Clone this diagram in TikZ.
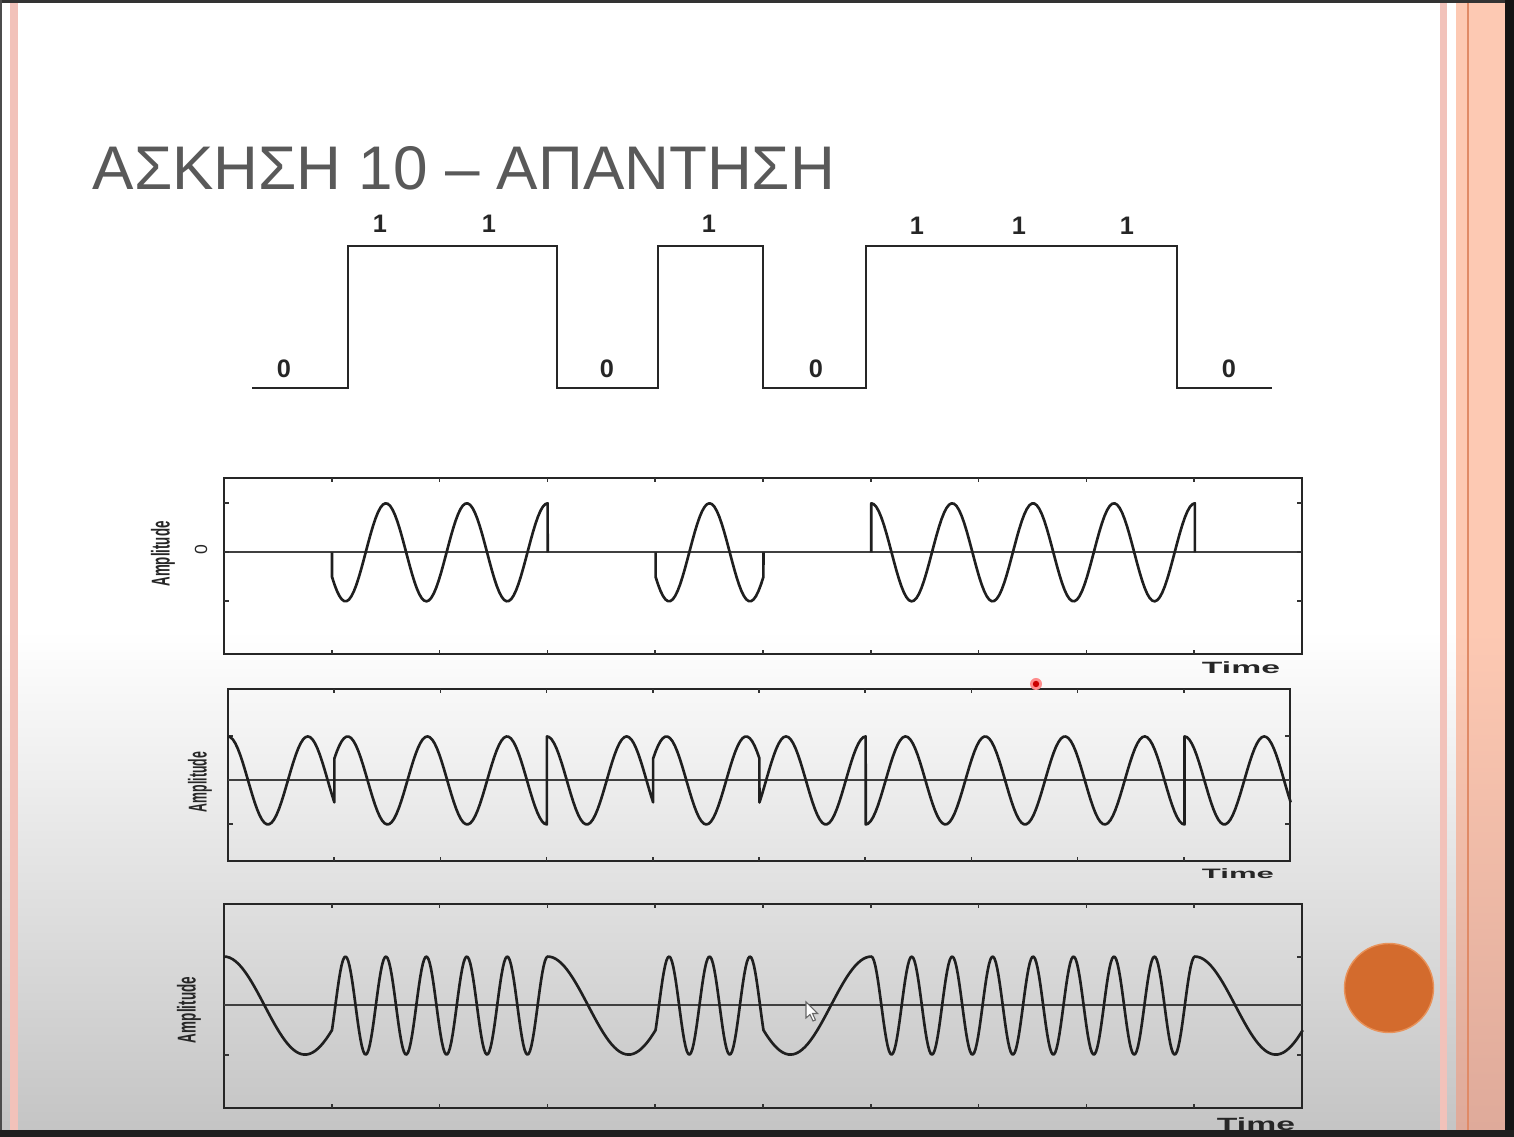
\documentclass[tikz,border=0pt]{standalone}
\usepackage{fontspec}
\setmainfont{Liberation Sans}
\usepackage{graphicx}
\definecolor{titlegray}{HTML}{595959}
\definecolor{salmon}{HTML}{FDC9B3}
\definecolor{salmondark}{HTML}{DFAA9A}
\definecolor{pinkstripe}{HTML}{F2C2BA}
\definecolor{orangeline}{HTML}{E08A66}
\definecolor{dotorange}{HTML}{D36B2D}
\definecolor{dotedge}{HTML}{E8925A}
\begin{document}
\begin{tikzpicture}[x=0.01cm,y=-0.01cm,
  wave/.style={line width=0.75pt, black!88, line join=round},
  panelbox/.style={line width=0.6pt, black!85},
  zeroline/.style={line width=0.35pt, black!75},
  tickmark/.style={line width=0.45pt, black!80},
  bitline/.style={line width=0.5pt, black!85},
  bitlbl/.style={font=\fontsize{7.2}{8}\selectfont\bfseries, inner sep=0pt, text=black!85},
  amp/.style={rotate=90, inner sep=0pt, text=black!85},
  timelbl/.style={inner sep=0pt, text=black!85}]
\useasboundingbox (0,0) rectangle (1514,1137);
% background
\fill[white] (0,0) rectangle (1514,1137);
\shade[top color=white,bottom color=black!23] (0,630) rectangle (1505,1130);
% left stripe
\fill[pinkstripe] (10,3) rectangle (18,1130);
% right stripes
\fill[pinkstripe] (1440,3) rectangle (1447,1130);
\fill[salmon] (1456,3) rectangle (1505,630);
\shade[top color=salmon,bottom color=salmondark] (1456,630) rectangle (1505,1130);
\draw[orangeline, line width=0.35pt] (1468,3) -- (1468,1130);
% frame edges
\fill[black!80] (0,0) rectangle (1514,3);
\fill[black!70] (0,0) rectangle (2,1137);
\fill[black!92] (1505,0) rectangle (1514,1137);

% title
\node[anchor=west, text=titlegray, inner sep=0pt] (title) at (92,168.5)
  {\resizebox{7.42cm}{0.43cm}{ΑΣΚΗΣΗ 10 – ΑΠΑΝΤΗΣΗ}};

% bit sequence
\draw[bitline] (252,388) -- (348,388) -- (348,246) -- (557,246) -- (557,388)
  -- (658,388) -- (658,246) -- (763,246) -- (763,388) -- (866,388) -- (866,246)
  -- (1177,246) -- (1177,388) -- (1272,388);
\node[bitlbl] (b0) at (284,369) {0};
\node[bitlbl] (b1) at (380,224) {1};
\node[bitlbl] (b2) at (489,224) {1};
\node[bitlbl] (b3) at (607,369) {0};
\node[bitlbl] (b4) at (709,224) {1};
\node[bitlbl] (b5) at (816,369) {0};
\node[bitlbl] (b6) at (917,226) {1};
\node[bitlbl] (b7) at (1019,226) {1};
\node[bitlbl] (b8) at (1127,226) {1};
\node[bitlbl] (b9) at (1229,369) {0};

% ---------- panel 1 (ASK) ----------
\draw[panelbox] (224,478) rectangle (1302,654);
\draw[zeroline] (224,552) -- (1302,552);
\foreach \i in {1,...,9} {
  \draw[tickmark] ({224+\i*107.8},478) -- ++(0,4);
  \draw[tickmark] ({224+\i*107.8},654) -- ++(0,-4);
}
\foreach \yy in {503,552,601} {
  \draw[tickmark] (224,\yy) -- ++(5,0);
  \draw[tickmark] (1302,\yy) -- ++(-5,0);
}
\begin{scope}[xshift=2.24cm,yshift=-5.52cm,x=1.078cm,y=0.49cm]
  \draw[wave] (1,0) -- plot[domain=1:3,samples=90] (\x,{cos(480*\x)}) -- (3,0);
  \draw[wave] (4,0) -- plot[domain=4:5,samples=45] (\x,{cos(480*\x)}) -- (5,0);
  \draw[wave] (6,0) -- plot[domain=6:9,samples=130] (\x,{cos(480*\x)}) -- (9,0);
\end{scope}
\node[amp] (amp1) at (163,554) {\resizebox*{0.65cm}{0.24cm}{\bfseries Amplitude}};
\node[amp] (zero1) at (201,550) {\fontsize{5}{5}\selectfont 0};
\node[timelbl] (time1) at (1241,668) {\resizebox*{0.78cm}{0.12cm}{\bfseries Time}};

% ---------- panel 2 (BPSK) ----------
\draw[panelbox] (228,689) rectangle (1290,861);
\draw[zeroline] (228,780) -- (1290,780);
\foreach \i in {1,...,9} {
  \draw[tickmark] ({228+\i*106.2},689) -- ++(0,4);
  \draw[tickmark] ({228+\i*106.2},861) -- ++(0,-4);
}
\foreach \yy in {736,824} {
  \draw[tickmark] (228,\yy) -- ++(5,0);
  \draw[tickmark] (1290,\yy) -- ++(-5,0);
}
\begin{scope}[xshift=2.28cm,yshift=-7.80cm,x=1.062cm,y=0.44cm]
  \draw[wave] plot[domain=0:1,samples=45] (\x,{cos(480*\x)})
    -- plot[domain=1:3,samples=90] (\x,{-cos(480*\x)})
    -- plot[domain=3:4,samples=45] (\x,{cos(480*\x)})
    -- plot[domain=4:5,samples=45] (\x,{-cos(480*\x)})
    -- plot[domain=5:6,samples=45] (\x,{cos(480*\x)})
    -- plot[domain=6:9,samples=130] (\x,{-cos(480*\x)})
    -- plot[domain=9:10,samples=45] (\x,{cos(480*\x)});
\end{scope}
\node[amp] (amp2) at (200,782) {\resizebox*{0.6cm}{0.24cm}{\bfseries Amplitude}};
\node[timelbl] (time2) at (1238,874) {\resizebox*{0.72cm}{0.10cm}{\bfseries Time}};

% ---------- panel 3 (FSK) ----------
\draw[panelbox] (224,904) rectangle (1302,1108);
\draw[zeroline] (224,1005) -- (1302,1005);
\foreach \i in {1,...,9} {
  \draw[tickmark] ({224+\i*107.8},904) -- ++(0,4);
  \draw[tickmark] ({224+\i*107.8},1108) -- ++(0,-4);
}
\foreach \yy in {957,1055} {
  \draw[tickmark] (224,\yy) -- ++(5,0);
  \draw[tickmark] (1302,\yy) -- ++(-5,0);
}
\begin{scope}[xshift=2.24cm,yshift=-10.05cm,x=1.078cm,y=0.49cm]
  \draw[wave] plot[domain=0:1,samples=40] (\x,{cos(240*\x)})
    -- plot[domain=1:3,samples=160] (\x,{cos(960*\x)})
    -- plot[domain=3:4,samples=40] (\x,{cos(240*\x)})
    -- plot[domain=4:5,samples=80] (\x,{cos(960*\x)})
    -- plot[domain=5:6,samples=40] (\x,{cos(240*\x)})
    -- plot[domain=6:9,samples=240] (\x,{cos(960*\x)})
    -- plot[domain=9:10,samples=40] (\x,{cos(240*\x)});
\end{scope}
\node[amp] (amp3) at (189,1010) {\resizebox*{0.66cm}{0.24cm}{\bfseries Amplitude}};
\node[timelbl] (time3) at (1256,1124) {\resizebox*{0.78cm}{0.13cm}{\bfseries Time}};

% bottom band
\fill[black!88] (0,1130) rectangle (1514,1137);

% orange bullet
\fill[dotorange, draw=dotedge, line width=0.4pt] (1389,988) circle[radius=44.5];

% laser pointer dot
\fill[red!45!white] (1036,684) circle[radius=6];
\fill[red!80!black] (1036,684) circle[radius=3.2];

% mouse cursor
\filldraw[fill=white, draw=black!60, line width=0.3pt]
  (806,1002) -- (806,1018) -- (810,1014.5) -- (813,1021) -- (815.5,1020)
  -- (812.5,1013.5) -- (817.5,1013.5) -- cycle;
\end{tikzpicture}
\end{document}
